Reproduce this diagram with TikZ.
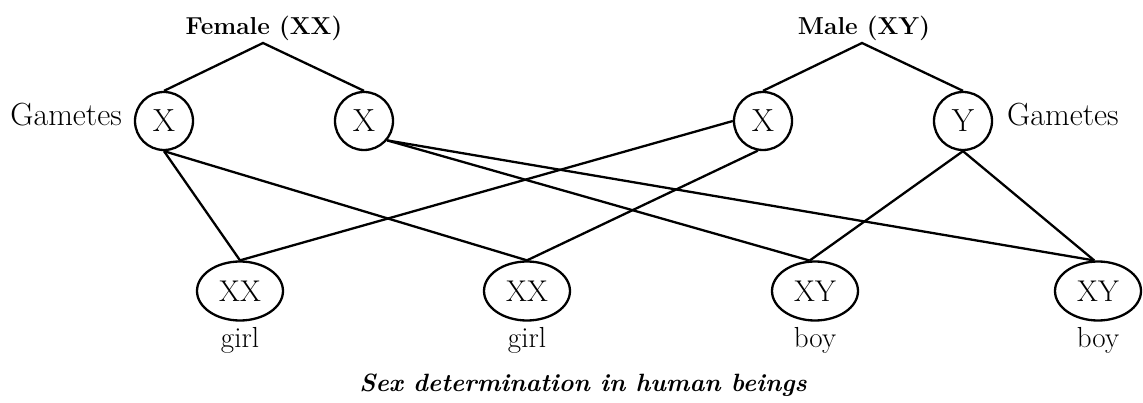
\documentclass[tikz,border=0pt]{standalone}
\usetikzlibrary{shapes.geometric}
\begin{document}
\begin{tikzpicture}[x=1pt,y=-1pt,
  gam/.style={circle, draw, line width=2.3pt, minimum size=58pt, inner sep=0pt, font=\fontsize{32}{36}\selectfont},
  zyg/.style={ellipse, draw, line width=2.3pt, minimum width=86pt, minimum height=59pt, inner sep=0pt, font=\fontsize{30}{34}\selectfont},
  lbl/.style={font=\fontsize{29}{34}\selectfont, inner sep=0pt},
  side/.style={font=\fontsize{32}{36}\selectfont, inner sep=0pt},
  parent/.style={font=\bfseries\fontsize{24.5}{30}\selectfont, inner sep=0pt},
  caption/.style={font=\bfseries\itshape\fontsize{25}{30}\selectfont, inner sep=0pt},
  link/.style={line width=2.3pt}]
\useasboundingbox (0,0) rectangle (1143,403);
% parents
\node[parent, anchor=base] (fem) at (264,35) {Female (XX)};
\node[parent, anchor=base] (mal) at (864,35) {Male (XY)};
\coordinate (fa) at (263,43);
\coordinate (ma) at (862,43);
% gametes
\node[gam] (x1) at (164,121) {X};
\node[gam] (x2) at (364,121) {X};
\node[gam] (x3) at (763,121) {X};
\node[gam] (y1) at (963,121) {Y};
\node[side, anchor=base east] (gl) at (122,126) {Gametes};
\node[side, anchor=base west] (gr) at (1007,126) {Gametes};
% zygotes
\node[zyg] (za) at (240,291) {XX};
\node[zyg] (zb) at (527,291) {XX};
\node[zyg] (zc) at (815,291) {XY};
\node[zyg] (zd) at (1098,291) {XY};
\node[lbl, anchor=base] (la) at (240,347) {girl};
\node[lbl, anchor=base] (lb) at (527,347) {girl};
\node[lbl, anchor=base] (lc) at (815,347) {boy};
\node[lbl, anchor=base] (ld) at (1098,347) {boy};
\node[caption, anchor=base] (cap) at (583,391) {Sex determination in human beings};
% connectors
\draw[link] (x1.north) -- (fa) -- (x2.north);
\draw[link] (x3.north) -- (ma) -- (y1.north);
\draw[link] (x1.south) -- (za.north);
\draw[link] (x1.south) -- (zb.north);
\draw[link] (x2.-40) -- (zc.100);
\draw[link] (x2.-40) -- (zd.97);
\draw[link] (x3.west) -- (za.north);
\draw[link] (x3.-100) -- (zb.north);
\draw[link] (y1.south) -- (zc.100);
\draw[link] (y1.south) -- (zd.97);
\end{tikzpicture}
\end{document}
